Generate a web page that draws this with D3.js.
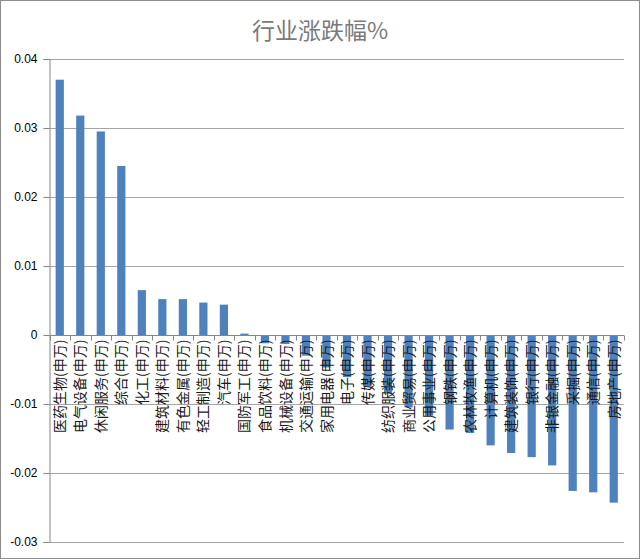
<!DOCTYPE html>
<html>
<head>
<meta charset="utf-8">
<script src="https://cdn.jsdelivr.net/npm/d3@7"></script>
<style>
html,body{margin:0;padding:0;background:#fff;}
svg{display:block;}
</style>
</head>
<body>
<svg id="chart" width="640" height="559"></svg>
<script>
const categories = ["医药生物(申万)","电气设备(申万)","休闲服务(申万)","综合(申万)","化工(申万)","建筑材料(申万)","有色金属(申万)","轻工制造(申万)","汽车(申万)","国防军工(申万)","食品饮料(申万)","机械设备(申万)","交通运输(申万)","家用电器(申万)","电子(申万)","传媒(申万)","纺织服装(申万)","商业贸易(申万)","公用事业(申万)","钢铁(申万)","农林牧渔(申万)","计算机(申万)","建筑装饰(申万)","银行(申万)","非银金融(申万)","采掘(申万)","通信(申万)","房地产(申万)"];
const values = [0.0370,0.0318,0.0295,0.0245,0.0065,0.0052,0.0052,0.0047,0.0044,0.0002,-0.0012,-0.0013,-0.0030,-0.0047,-0.0061,-0.0075,-0.0085,-0.0105,-0.0117,-0.0137,-0.0142,-0.0160,-0.0171,-0.0177,-0.0189,-0.0226,-0.0228,-0.0243];
const yTicks = [0.04,0.03,0.02,0.01,0,-0.01,-0.02,-0.03];
const yTickLabels = ["0.04","0.03","0.02","0.01","0","-0.01","-0.02","-0.03"];
const title = "行业涨跌幅%";

(function(){
const svg = d3.select("#chart");
const W = 640, H = 559;
const mLeft = 49.5, mRight = 624, mTop = 59, mBottom = 542;

svg.append("rect").attr("x",0.5).attr("y",0.5).attr("width",W-1).attr("height",H-1)
  .attr("fill","#fff").attr("stroke","#8c8c8c").attr("stroke-width",1);

const x = d3.scaleBand().domain(categories).range([mLeft, mRight]).paddingInner(0.6).paddingOuter(0.3);
const y = d3.scaleLinear().domain([-0.03, 0.04]).range([mBottom, mTop]);

// gridlines
svg.append("g").selectAll("line").data(yTicks).join("line")
  .attr("x1", mLeft).attr("x2", mRight)
  .attr("y1", d => Math.round(y(d)) + 0.5).attr("y2", d => Math.round(y(d)) + 0.5)
  .attr("stroke", "#a6a6a6").attr("stroke-width", 1);

// y axis
const yAxis = d3.axisLeft(y).tickValues(yTicks).tickSize(6).tickPadding(6)
  .tickFormat((d,i) => yTickLabels[i]);
const gy = svg.append("g").attr("transform", `translate(${mLeft},0)`).call(yAxis);
gy.select(".domain").attr("stroke", "#868686");
gy.selectAll(".tick line").attr("stroke", "#868686");
gy.selectAll(".tick text").attr("font-family", "'Liberation Sans', Arial, sans-serif")
  .attr("font-size", 12).attr("fill", "#000");
gy.selectAll(".tick").attr("transform", d => `translate(0,${Math.round(y(d)) + 0.5})`);

// bars
svg.append("g").selectAll("rect").data(values).join("rect")
  .attr("x", (d,i) => x(categories[i]))
  .attr("width", x.bandwidth())
  .attr("y", d => y(Math.max(0, d)))
  .attr("height", d => Math.abs(y(d) - y(0)))
  .attr("fill", "#4f81bd");

// x axis at zero
const y0 = Math.round(y(0)) + 0.5;
svg.append("line").attr("x1", mLeft).attr("x2", mRight).attr("y1", y0).attr("y2", y0)
  .attr("stroke", "#868686");
const step = x.step();
const boundaries = d3.range(categories.length + 1).map(i => mLeft + i * step);
svg.append("g").selectAll("line").data(boundaries).join("line")
  .attr("x1", d => Math.round(d) + 0.5).attr("x2", d => Math.round(d) + 0.5)
  .attr("y1", y0).attr("y2", y0 + 5)
  .attr("stroke", "#868686");

// category labels
svg.append("g").selectAll("text").data(categories).join("text")
  .attr("transform", d => `translate(${x(d) + x.bandwidth()/2},${y0 + 4}) rotate(-90)`)
  .attr("text-anchor", "end")
  .attr("dy", "0.36em")
  .attr("font-family", "'Noto Sans CJK SC', sans-serif")
  .attr("font-size", 14)
  .attr("fill", "#1a1a1a")
  .text(d => d);

// title
svg.append("text").attr("x", 320).attr("y", 39).attr("text-anchor", "middle")
  .attr("font-family", "'Noto Sans CJK SC', sans-serif")
  .attr("font-size", 23).attr("fill", "#7a7a7a")
  .text(title);
})();
</script>
</body>
</html>
